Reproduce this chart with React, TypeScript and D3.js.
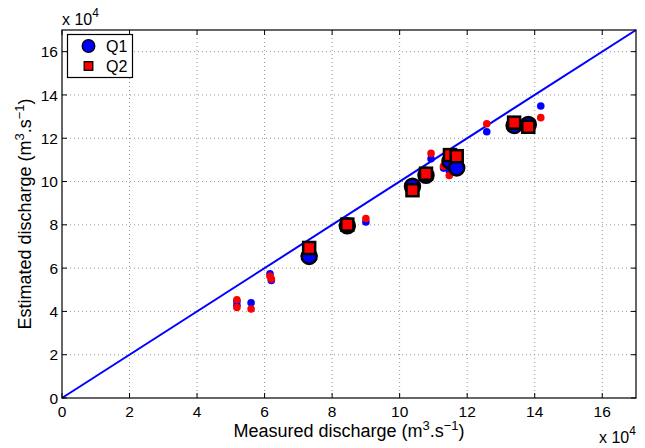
import React from "react";
import * as d3 from "d3";

const xTicks = [0, 2, 4, 6, 8, 10, 12, 14, 16];
const yTicks = [0, 2, 4, 6, 8, 10, 12, 14, 16];

// small dots (x in 1e4 m3/s)
const smallX = [5.18, 5.18, 5.6, 6.16, 6.2, 9.0, 10.93, 11.3, 11.47, 12.58, 14.18];
const smallQ1 = [4.46, 4.28, 4.4, 5.74, 5.43, 8.13, 11.05, 10.62, 10.5, 12.3, 13.49];
const smallQ2 = [4.54, 4.18, 4.11, 5.62, 5.5, 8.29, 11.3, 10.71, 10.28, 12.67, 12.95];

// large markers
const largeX = [7.32, 8.45, 10.38, 10.78, 11.49, 11.69, 13.39, 13.81];
const largeQ1 = [6.54, 7.96, 9.78, 10.29, 10.94, 10.63, 12.59, 12.64];
const largeQ2 = [6.93, 8.01, 9.6, 10.36, 11.22, 11.17, 12.72, 12.53];

const W = 645;
const H = 448;
const M = { left: 62, right: 636, top: 30, bottom: 398 };
const FONT = "'Liberation Sans', Arial, Helvetica, sans-serif";

export default function App() {
  const x = d3.scaleLinear().domain([0, 17]).range([M.left, M.right]);
  const y = d3.scaleLinear().domain([0, 17]).range([M.bottom, M.top]);
  const tl = 5;
  const tf = 15.5;
  const lf = 18;

  return (
    <svg width={W} height={H} style={{ position: "absolute", left: 0, top: 0, background: "#fff" }}
      fontFamily={FONT}>
      <rect x={0} y={0} width={W} height={H} fill="#fff" />
      {/* grid */}
      {xTicks.filter((t) => t > 0).map((t) => (
        <line key={"gx" + t} x1={x(t)} x2={x(t)} y1={M.top} y2={M.bottom}
          stroke="#999" strokeWidth={1} strokeDasharray="1,3" />
      ))}
      {yTicks.filter((t) => t > 0).map((t) => (
        <line key={"gy" + t} x1={M.left} x2={M.right} y1={y(t)} y2={y(t)}
          stroke="#999" strokeWidth={1} strokeDasharray="1,3" />
      ))}
      {/* diagonal */}
      <line x1={x(0)} y1={y(0)} x2={x(17)} y2={y(17)} stroke="#0000ff" strokeWidth={2} />
      {/* small dots */}
      {smallX.map((v, i) => (
        <circle key={"sb" + i} cx={x(v)} cy={y(smallQ1[i])} r={3.8} fill="#0000ff" />
      ))}
      {smallX.map((v, i) => (
        <circle key={"sr" + i} cx={x(v)} cy={y(smallQ2[i])} r={3.8} fill="#ff0000" />
      ))}
      {/* large markers */}
      {largeX.map((v, i) => (
        <circle key={"lb" + i} cx={x(v)} cy={y(largeQ1[i])} r={7.5} fill="#0000ff"
          stroke="#000" strokeWidth={2.5} />
      ))}
      {largeX.map((v, i) => (
        <rect key={"lr" + i} x={x(v) - 6} y={y(largeQ2[i]) - 6} width={12} height={12}
          fill="#ff0000" stroke="#000" strokeWidth={2.5} />
      ))}
      {/* axes box */}
      <rect x={M.left} y={M.top} width={M.right - M.left} height={M.bottom - M.top}
        fill="none" stroke="#000" strokeWidth={1.2} />
      {/* ticks */}
      {xTicks.map((t) => (
        <g key={"tx" + t}>
          <line x1={x(t)} x2={x(t)} y1={M.bottom} y2={M.bottom - tl} stroke="#000" />
          <line x1={x(t)} x2={x(t)} y1={M.top} y2={M.top + tl} stroke="#000" />
          <text x={x(t)} y={M.bottom + 19} textAnchor="middle" fontSize={tf}>{t}</text>
        </g>
      ))}
      {yTicks.map((t) => (
        <g key={"ty" + t}>
          <line x1={M.left} x2={M.left + tl} y1={y(t)} y2={y(t)} stroke="#000" />
          <line x1={M.right} x2={M.right - tl} y1={y(t)} y2={y(t)} stroke="#000" />
          <text x={M.left - 4} y={y(t) + 5.6} textAnchor="end" fontSize={tf}>{t}</text>
        </g>
      ))}
      {/* exponent labels */}
      <text x={62} y={25} fontSize={16}>x 10<tspan dy={-8} fontSize={12}>4</tspan></text>
      <text x={599} y={443} fontSize={16}>x 10<tspan dy={-8} fontSize={12}>4</tspan></text>
      {/* axis labels */}
      <text x={349} y={437} textAnchor="middle" fontSize={lf}>
        Measured discharge (m<tspan dy={-7} fontSize={13}>3</tspan><tspan dy={7}>.s</tspan>
        <tspan dy={-7} fontSize={13}>−1</tspan><tspan dy={7}>)</tspan>
      </text>
      <text transform={`translate(31, ${(M.top + M.bottom) / 2}) rotate(-90)`} textAnchor="middle" fontSize={lf}>
        Estimated discharge (m<tspan dy={-7} fontSize={13}>3</tspan><tspan dy={7}>.s</tspan>
        <tspan dy={-7} fontSize={13}>−1</tspan><tspan dy={7}>)</tspan>
      </text>
      {/* legend */}
      <rect x={67.5} y={34.5} width={65} height={43} fill="#fff" stroke="#000" strokeWidth={1.2} />
      <circle cx={88.5} cy={46} r={6.3} fill="#0000ff" stroke="#000" strokeWidth={1.3} />
      <rect x={84.2} y={61.7} width={8.6} height={8.6} fill="#ff0000" stroke="#000" strokeWidth={1.3} />
      <text x={106} y={52} fontSize={16}>Q1</text>
      <text x={106} y={72} fontSize={16}>Q2</text>
    </svg>
  );
}
